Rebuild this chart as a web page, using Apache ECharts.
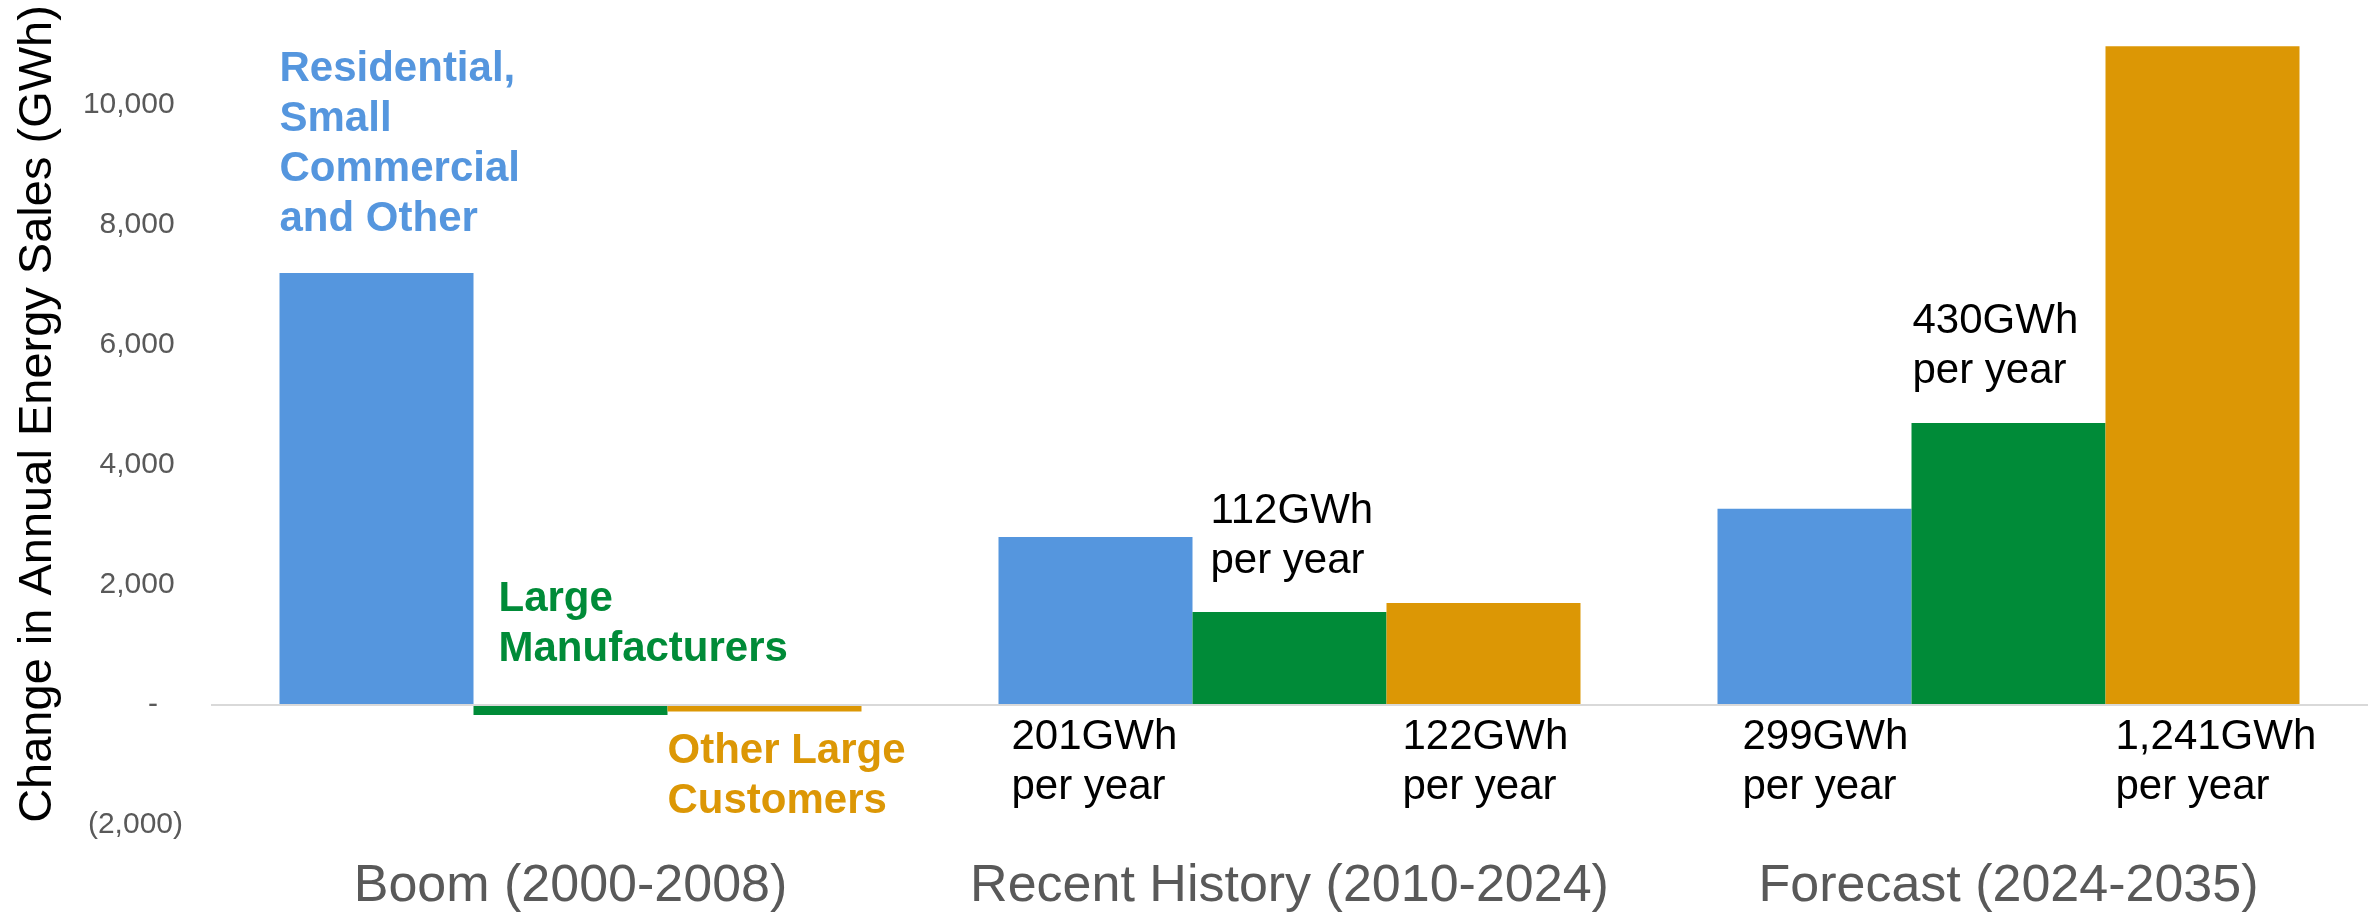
<!DOCTYPE html>
<html>
<head>
<meta charset="utf-8">
<script src="https://cdn.jsdelivr.net/npm/echarts@6/dist/echarts.min.js"></script>
<style>
  html, body { margin: 0; padding: 0; background: #fff; }
  #chart { width: 2379px; height: 916px; }
</style>
</head>
<body>
<div id="chart"></div>
<script>
const categories = ['Boom (2000-2008)', 'Recent History (2010-2024)', 'Forecast (2024-2035)'];
const residential = [7200, 2800, 3270];
const manufacturers = [-165, 1550, 4700];
const otherLarge = [-110, 1700, 10980];

const residentialNotes = ['Residential,\nSmall\nCommercial\nand Other', '201GWh\nper year', '299GWh\nper year'];
const manufacturersNotes = ['Large\nManufacturers', '112GWh\nper year', '430GWh\nper year'];
const otherLargeNotes = ['Other Large\nCustomers', '122GWh\nper year', '1,241GWh\nper year'];

const yMin = -2000;
const yMax = 11000;
const yStep = 2000;

const FONT = '"Liberation Sans", Arial, sans-serif';
const BLUE = '#5596de';
const GREEN = '#008b38';
const ORANGE = '#dc9705';

// where each note sits relative to its bar: above (top) or below (bottom), plus nudge
const residentialPlace = [['top', 0, -29, true], ['bottom', 13, 7], ['bottom', 25, 7]];
const manufacturersPlace = [['top', 25, -31, true], ['top', 18, -26], ['top', 1, -27]];
const otherLargePlace = [['bottom', 0, 15, true], ['bottom', 16, 7], ['bottom', 10, 7]];

function fmt(v) {
    return v.toLocaleString('en-US');
}

function buildData(values, notes, places, color) {
    return values.map((v, i) => {
        const [side, dx, dy, bold] = places[i];
        return {
            value: v,
            label: {
                show: true,
                formatter: notes[i],
                position: side === 'top' ? [0, 0] : [0, '100%'],
                align: 'left',
                verticalAlign: side === 'top' ? 'bottom' : 'top',
                offset: [dx, dy],
                fontFamily: FONT,
                fontSize: 42,
                lineHeight: 50,
                fontWeight: bold ? 'bold' : 'normal',
                color: bold ? color : '#000'
            }
        };
    });
}

const chart = echarts.init(document.getElementById('chart'));

chart.setOption({
    animation: false,
    backgroundColor: '#fff',
    grid: { left: 211, right: 11, top: 45, bottom: 91, containLabel: false },
    xAxis: {
        type: 'category',
        data: categories,
        axisLine: { show: false, onZero: false },
        axisTick: { show: false },
        axisLabel: {
            interval: 0,
            margin: 36,
            fontFamily: FONT,
            fontSize: 52,
            color: '#595959'
        }
    },
    yAxis: {
        type: 'value',
        min: yMin,
        max: yMax,
        interval: yStep,
        axisLine: { show: false },
        axisTick: { show: false },
        splitLine: { show: false },
        axisLabel: {
            showMaxLabel: false,
            margin: 28,
            fontFamily: FONT,
            fontSize: 30,
            color: '#595959',
            formatter: (v) => {
                if (v === 0) return '-\u00a0\u00a0\u00a0';
                if (v < 0) return '(' + fmt(-v) + ')';
                return fmt(v) + '\u00a0';
            }
        }
    },
    graphic: [
        {
            type: 'text',
            x: 38,
            y: 414,
            rotation: Math.PI / 2,
            style: {
                text: 'Change in Annual Energy Sales (GWh)',
                fontFamily: FONT,
                fontSize: 47,
                fill: '#000',
                align: 'center',
                verticalAlign: 'middle'
            }
        }
    ],
    series: [
        {
            name: 'Residential, Small Commercial and Other',
            type: 'bar',
            barWidth: 194,
            barGap: '0%',
            itemStyle: { color: BLUE },
            data: buildData(residential, residentialNotes, residentialPlace, BLUE),
            markLine: {
                silent: true,
                symbol: ['none', 'none'],
                label: { show: false },
                lineStyle: { color: '#d9d9d9', width: 2, type: 'solid' },
                data: [{ yAxis: 0 }]
            }
        },
        {
            name: 'Large Manufacturers',
            type: 'bar',
            barWidth: 194,
            barGap: '0%',
            itemStyle: { color: GREEN },
            data: buildData(manufacturers, manufacturersNotes, manufacturersPlace, GREEN)
        },
        {
            name: 'Other Large Customers',
            type: 'bar',
            barWidth: 194,
            barGap: '0%',
            itemStyle: { color: ORANGE },
            data: buildData(otherLarge, otherLargeNotes, otherLargePlace, ORANGE)
        }
    ]
});
</script>
</body>
</html>
